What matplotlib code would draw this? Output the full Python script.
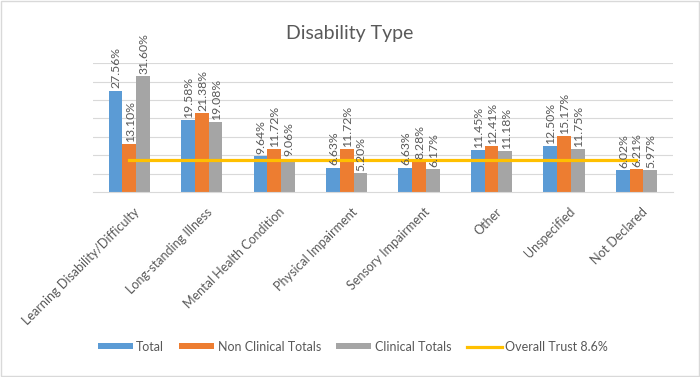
import numpy as np
import matplotlib
matplotlib.use("Agg")
import matplotlib.pyplot as plt
from matplotlib.patches import Rectangle

plt.rcParams['font.family'] = ['Lato', 'DejaVu Sans']

categories = ['Learning Disability/Difficulty', 'Long-standing Illness', 'Mental Health Condition',
              'Physical Impairment', 'Sensory Impairment', 'Other', 'Unspecified', 'Not Declared']
total = [27.56, 19.58, 9.64, 6.63, 6.63, 11.45, 12.50, 6.02]
non_clinical = [13.10, 21.38, 11.72, 11.72, 8.28, 12.41, 15.17, 6.21]
clinical = [31.60, 19.08, 9.06, 5.20, 6.17, 11.18, 11.75, 5.97]
overall_trust = [8.6] * len(categories)

text_col = '#595959'
fig = plt.figure(figsize=(7, 3.77), dpi=100)
ax = fig.add_axes([0.133, 0.491, 0.828, 0.341])

x = np.arange(len(categories))
w = 0.19
series = [('Total', total, '#5B9BD5'),
          ('Non Clinical Totals', non_clinical, '#ED7D31'),
          ('Clinical Totals', clinical, '#A5A5A5')]
handles = []
for i, (name, vals, col) in enumerate(series):
    pos = x + (i - 1) * w
    handles.append(ax.bar(pos, vals, w, color=col, label=name, zorder=2))
    for p, v in zip(pos, vals):
        ax.text(p + 0.01, v + 0.6, f'{v:.2f}%', rotation=90, ha='center', va='bottom',
                fontsize=8.8, color=text_col, zorder=4)

line, = ax.plot(x, overall_trust, color='#FFC000', lw=2.3, label='Overall Trust 8.6%', zorder=3)
handles.append(line)

ax.set_xlim(-0.5, len(categories) - 0.5)
ax.set_ylim(0, 35)
ax.set_yticks(np.arange(5, 36, 5))
ax.yaxis.grid(True, color='#D9D9D9', lw=0.8, zorder=0)
ax.tick_params(axis='y', left=False, labelleft=False)
ax.tick_params(axis='x', length=0, pad=10)
ax.set_xticks(x + 0.06)
ax.set_xticklabels(categories, rotation=45, ha='right', rotation_mode='anchor',
                   fontsize=9, color=text_col)
for s in ['top', 'right', 'left']:
    ax.spines[s].set_visible(False)
ax.spines['bottom'].set_color('#D9D9D9')

fig.text(0.5, 0.912, 'Disability Type', ha='center', va='center', fontsize=14, color=text_col)

fig.legend(handles=handles, loc='center', bbox_to_anchor=(0.504, 0.08), ncol=4, frameon=False,
           fontsize=9, handlelength=2.8, handleheight=0.35, handletextpad=0.3,
           columnspacing=1.2, labelcolor=text_col)

fig.patches.append(Rectangle((0.002, 0.003), 0.996, 0.994, transform=fig.transFigure,
                             fill=False, edgecolor='#D9D9D9', lw=1))

fig.savefig('out.png', dpi=100)
